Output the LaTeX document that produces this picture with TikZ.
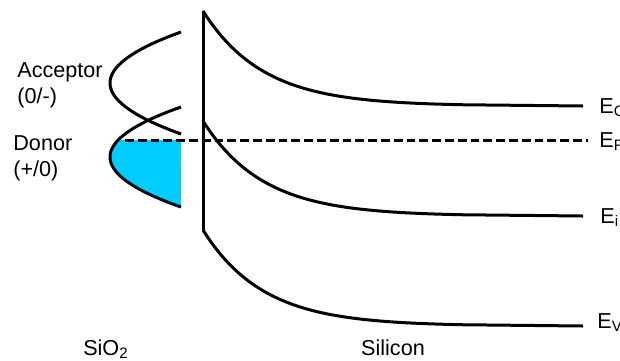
\documentclass[tikz,border=0pt]{standalone}
\usepackage{fontspec}
\setmainfont{Liberation Sans}
\usepackage{xcolor}
\definecolor{trapfill}{RGB}{0,204,255}

\begin{document}
\begin{tikzpicture}[
  x=0.5pt, y=-0.5pt,
  font=\fontsize{10.8}{13}\selectfont,
  band/.style={line width=1.5pt},
  level/.style={anchor=base west, inner sep=0pt},
  trap/.style={align=left, anchor=north west, inner sep=0pt},
]
\useasboundingbox (0,0) rectangle (620,360);
\clip (0,0) rectangle (620,360);

% filled donor states below E_F
\fill[trapfill] plot[domain=-17:50, samples=40, smooth] ({110+0.0284*\x*\x},{157+\x}) -- (181,140) -- cycle;

% interface traps in the oxide
\draw[band] plot[domain=-51:51, samples=50, smooth] ({110+0.0273*\x*\x},{83+\x});
\draw[band] plot[domain=-50:50, samples=50, smooth] ({110+0.0284*\x*\x},{157+\x});

% Si/SiO2 interface
\draw[band] (203,11) -- (203,230);

% bent bands in the silicon
\draw[band] plot[domain=0:260, samples=60, smooth] ({203+\x},{11+95*(1-exp(-\x/60))}) -- (583,106);
\draw[band] plot[domain=0:260, samples=60, smooth] ({203+\x},{121+95*(1-exp(-\x/60))}) -- (583,216);
\draw[band] plot[domain=0:260, samples=60, smooth] ({203+\x},{230+96*(1-exp(-\x/60))}) -- (583,326);

% Fermi level
\draw[band, dash pattern=on 4.4pt off 2pt] (125,140) -- (588,140);

% labels
\node[level] (ec) at (599,113) {E\textsubscript{C}};
\node[level] (ef) at (599,147) {E\textsubscript{F}};
\node[level] (ei) at (600,223) {E\textsubscript{i}};
\node[level] (ev) at (597,328) {E\textsubscript{V}};

\node[trap] (acc) at (17,62) {Acceptor\\(0/-)};
\node[trap] (don) at (13,135) {Donor\\(+/0)};

\node[anchor=base, inner sep=0pt] (sio) at (106,355) {SiO\textsubscript{2}};
\node[anchor=base, inner sep=0pt] (si) at (393,355) {Silicon};
\end{tikzpicture}
\end{document}
